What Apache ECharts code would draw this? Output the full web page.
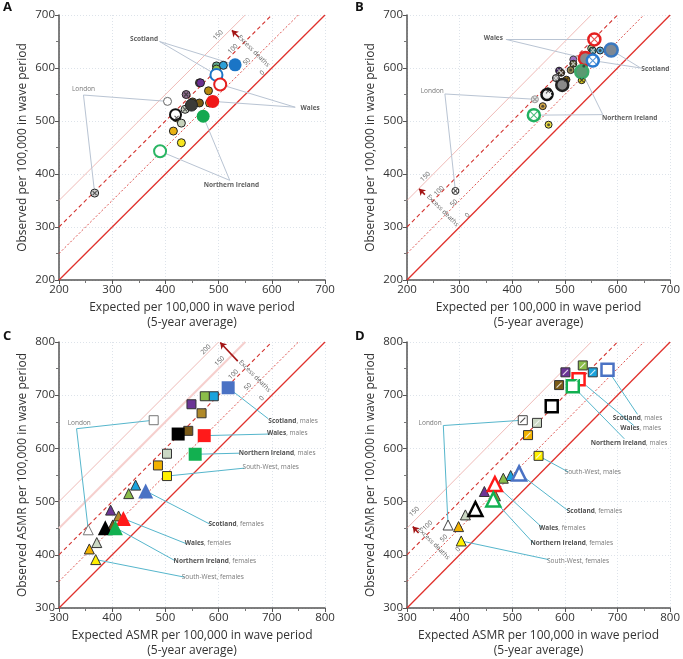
<!DOCTYPE html>
<html>
<head>
<meta charset="utf-8">
<script src="https://cdn.jsdelivr.net/npm/echarts@6/dist/echarts.min.js"></script>
<style>
  html, body { margin: 0; padding: 0; background: #fff; }
  #chart { width: 683px; height: 659px; }
</style>
</head>
<body>
<div id="chart"></div>
<script>
// ---------- data (expected, observed per 100,000) ----------
// Panel A
const aNames = ['North East (2)', 'North East', 'North West', 'Yorkshire', 'West Midlands', 'West Midlands (2)',
  'East', 'London', 'East Midlands', 'East Midlands (2)', 'South West', 'South East (2)', 'East (2)',
  'South East', 'Yorkshire (2)', 'South West (2)', 'London (2)', 'UK', 'England',
  'Scotland', 'Scotland (2)', 'Wales', 'Wales (2)', 'Northern Ireland', 'Northern Ireland (2)'];
const aExpected = [496, 509, 496, 464, 466, 439, 481, 404, 451, 464, 483, 437, 421, 430, 415, 430, 267, 449, 419,
  531, 496, 489, 503, 471, 390];
const aObserved = [604, 605, 598, 572, 572, 550, 557, 537, 536, 534, 534, 522, 506, 496, 481, 459, 364, 530, 512,
  606, 587, 537, 569, 509, 443];

// Panel B
const bNames = ['North West', 'North East (2)', 'North East', 'West Midlands', 'Yorkshire (2)', 'East',
  'Yorkshire', 'West Midlands (2)', 'East Midlands (2)', 'South East (2)', 'East Midlands', 'South West (2)',
  'East (2)', 'South East', 'London', 'East (3)', 'South West', 'London (2)', 'UK', 'England',
  'Wales (2)', 'Scotland', 'Wales', 'Scotland (2)', 'Northern Ireland', 'Northern Ireland (2)'];
const bExpected = [550, 553, 567, 516, 516, 536, 511, 489, 493, 483, 503, 532, 468, 471, 443, 458, 469, 292, 495, 466,
  556, 588, 539, 553, 532, 441];
const bObserved = [637, 633, 633, 616, 608, 604, 596, 595, 591, 581, 578, 577, 556, 551, 541, 528, 493, 368, 568, 550,
  654, 634, 618, 614, 593, 511];

// Panels C and D: age-standardised rates, males (M) and females (F)
const cNames = ['North East M', 'North West M', 'West Midlands M', 'Yorkshire M', 'London M', 'East Midlands M',
  'South East M', 'East M', 'South West M', 'England M', 'Scotland M', 'Wales M', 'Northern Ireland M',
  'North East F', 'North West F', 'West Midlands F', 'Yorkshire F', 'London F', 'East Midlands F',
  'South East F', 'East F', 'South West F', 'England F', 'Scotland F', 'Wales F', 'Northern Ireland F'];
const cExpected = [591, 574, 549, 568, 478, 543, 503, 486, 503, 524, 618, 573, 556,
  444, 431, 397, 412, 355, 401, 371, 357, 369, 387, 463, 421, 406];
const cObserved = [698, 698, 683, 666, 653, 633, 590, 568, 548, 627, 714, 624, 589,
  531, 515, 484, 473, 447, 456, 423, 411, 391, 451, 520, 468, 451];

const dNames = ['North West M', 'North East M', 'West Midlands M', 'Yorkshire M', 'East Midlands M', 'London M',
  'South East M', 'East M', 'South West M', 'England M', 'Scotland M', 'Wales M', 'Northern Ireland M',
  'North East F', 'North West F', 'West Midlands F', 'Yorkshire F', 'South East F', 'London F',
  'East F', 'South West F', 'England F', 'Scotland F', 'Wales F', 'Northern Ireland F'];
const dExpected = [634, 653, 601, 624, 589, 520, 547, 530, 550, 575, 681, 626, 615,
  497, 483, 447, 468, 411, 378, 398, 403, 430, 513, 467, 464];
const dObserved = [756, 743, 743, 729, 719, 653, 648, 625, 586, 679, 748, 730, 717,
  549, 544, 519, 511, 475, 456, 453, 426, 486, 553, 533, 504];

const excessLevelsAB = [0, 50, 100, 150];
const excessLevelsCD = [0, 50, 100, 150, 200];

// ---------- styles ----------
const styleA = {
  'North East (2)': { c: '#5ea58c' }, 'North East': { c: '#2ba0d8' }, 'North West': { c: '#8cc152' },
  'Yorkshire': { c: '#7e7b3c' }, 'West Midlands': { c: '#6a2f90' }, 'West Midlands (2)': { c: '#8c6c8c', mark: 'x' },
  'East': { c: '#b8880f' }, 'London': { c: '#fff', b: '#666' }, 'East Midlands': { c: '#8d6c18' },
  'East Midlands (2)': { c: '#7a5c12' }, 'South West': { c: '#efc21c' }, 'South East (2)': { c: '#c9d1c3', mark: 'x' },
  'East (2)': { c: '#d6a21f', mark: 'x' }, 'South East': { c: '#c7d2bc' }, 'Yorkshire (2)': { c: '#e9b112' },
  'South West (2)': { c: '#f7e51e' }, 'London (2)': { c: '#cfcfcf', mark: 'x' },
  'UK': { c: '#3b3b38', b: '#222', s: 12 }, 'England': { c: '#fff', b: '#111', w: 2, s: 11 },
  'Scotland': { c: '#1b75c6', w: 0, s: 13 }, 'Scotland (2)': { c: '#fff', b: '#1b75c6', w: 2, s: 12 },
  'Wales': { c: '#f01818', w: 0, s: 13 }, 'Wales (2)': { c: '#fff', b: '#e52020', w: 2, s: 12 },
  'Northern Ireland': { c: '#14a850', w: 0, s: 13 }, 'Northern Ireland (2)': { c: '#fff', b: '#2ab563', w: 2, s: 12 }
};
const styleB = {
  'North West': { c: '#a4c48c', mark: 'dot', s: 7 }, 'North East (2)': { c: '#2e6e70', mark: 'x', mc: '#ddd', s: 7 },
  'North East': { c: '#5aaee0', mark: 'dot', s: 7 }, 'West Midlands': { c: '#9c72c4', b: '#444', s: 7 },
  'Yorkshire (2)': { c: '#4d4a28', mark: 'x', mc: '#ddd', s: 7 }, 'East': { c: '#c9a244', mark: 'dot', s: 7 },
  'Yorkshire': { c: '#9c8c52', mark: 'dot', s: 7 }, 'West Midlands (2)': { c: '#3c1c5c', mark: 'x', mc: '#bbb', s: 7 },
  'East Midlands (2)': { c: '#3a2c1c', mark: 'x', mc: '#ddd', s: 7 }, 'South East (2)': { c: '#8e8e8e', mark: 'x', mc: '#eee', s: 7 },
  'East Midlands': { c: '#8c6a12', mark: 'x', mc: '#222', s: 7 }, 'South West (2)': { c: '#d8c81c', mark: 'x', mc: '#222', s: 7 },
  'East (2)': { c: '#b89430', mark: 'x', mc: '#222', s: 7 }, 'South East': { c: '#b0b0b0', mark: 'x', mc: '#fff', s: 7 },
  'London': { c: '#e8e8e8', b: '#999', mark: 'x', mc: '#888', s: 7 }, 'East (3)': { c: '#d4a848', mark: 'dot', s: 7 },
  'South West': { c: '#ecdf44', mark: 'dot', s: 7 }, 'London (2)': { c: '#fff', b: '#222', mark: 'x', mc: '#222', s: 7 },
  'UK': { c: '#8a8a8a', b: '#222', w: 2.5, s: 12 }, 'England': { c: '#eee', b: '#111', w: 2.5, s: 11 },
  'Wales (2)': { c: '#fff', b: '#e52020', w: 2.5, s: 12, mark: 'x', mc: '#e52020' },
  'Scotland': { c: '#7d8894', b: '#3a78c0', w: 2.5, s: 13 },
  'Wales': { c: '#8a8a8a', b: '#e02424', w: 2.5, s: 13 },
  'Scotland (2)': { c: '#fff', b: '#2a7ad0', w: 2.5, s: 12, mark: 'x', mc: '#2a7ad0' },
  'Northern Ireland': { c: '#5a9a72', b: '#3aaa6a', w: 2.5, s: 13 },
  'Northern Ireland (2)': { c: '#fff', b: '#22b060', w: 2.5, s: 12, mark: 'x', mc: '#22b060' }
};
const regionColour = {
  'Scotland': '#4a72c4', 'North East': '#1ba3dc', 'North West': '#8bbd4a', 'West Midlands': '#6b3595',
  'Yorkshire': '#b08a2a', 'London': '#ffffff', 'East Midlands': '#7a5a18', 'England': '#000000',
  'Wales': '#ff1a1a', 'South East': '#cbd8c4', 'Northern Ireland': '#12b050', 'East': '#f2b200',
  'South West': '#fff000'
};
const bigRegions = ['Scotland', 'Wales', 'Northern Ireland', 'England'];

function styleC(name) {
  const region = name.slice(0, -2), sex = name.slice(-1);
  const big = bigRegions.includes(region);
  return {
    c: regionColour[region], b: region === 'London' ? '#777' : '#333', w: big ? 0 : 1,
    s: big ? (sex === 'M' ? 13 : 15) : (sex === 'M' ? 9 : 10),
    shape: sex === 'M' ? 'rect' : 'triangle'
  };
}
function styleD(name) {
  const region = name.slice(0, -2), sex = name.slice(-1);
  const big = bigRegions.includes(region);
  const shape = sex === 'M' ? 'rect' : 'triangle';
  if (big) return { c: '#fff', b: regionColour[region], w: 2.5, s: sex === 'M' ? 12 : 14, shape: shape };
  return {
    c: regionColour[region], b: region === 'London' ? '#444' : '#333', w: 1,
    s: sex === 'M' ? 9 : 10, shape: shape, mark: sex === 'M' ? 'slash' : null,
    mc: region === 'London' ? '#222' : '#fff'
  };
}

// ---------- build ----------
const grids = [
  { left: 59, top: 15, width: 266, height: 265 },
  { left: 407, top: 15, width: 266, height: 265 },
  { left: 59, top: 342, width: 266, height: 267 },
  { left: 407, top: 342, width: 266, height: 267 }
];
const ranges = [[200, 700], [200, 700], [300, 800], [300, 800]];
const xNames = ['Expected per 100,000 in wave period\n(5-year average)', 'Expected per 100,000 in wave period\n(5-year average)',
  'Expected ASMR per 100,000 in wave period\n(5-year average)', 'Expected ASMR per 100,000 in wave period\n(5-year average)'];
const yNames = ['Observed per 100,000 in wave period', 'Observed per 100,000 in wave period',
  'Observed ASMR per 100,000 in wave period', 'Observed ASMR per 100,000 in wave period'];

const font = '"Open Sans", sans-serif';
const noteSize = 6.5;

function axis(i, isX) {
  return {
    type: 'value', gridIndex: i, min: ranges[i][0], max: ranges[i][1], interval: 100,
    axisLine: { show: true, onZero: false, lineStyle: { color: '#555', width: 1.5 } },
    axisTick: { show: true, length: 4, lineStyle: { color: '#555' } },
    minorTick: { show: true, splitNumber: 2, length: 3, lineStyle: { color: '#777' } },
    splitLine: { show: true, lineStyle: { color: '#dde3ea', type: [1, 2] } },
    axisLabel: { fontSize: 11.5, color: '#333', fontFamily: font, margin: 4 },
    name: isX ? xNames[i] : yNames[i], nameLocation: 'middle', nameGap: isX ? 20 : 29,
    nameTextStyle: { fontSize: 12, color: '#333', fontFamily: font, lineHeight: 15 }
  };
}

const levelStyle = {
  0: { color: '#e0312c', width: 1.3, type: 'solid' },
  50: { color: '#d9413c', width: 0.9, type: [2, 2] },
  100: { color: '#d33430', width: 1.1, type: [4, 3] },
  150: { color: '#eba8a5', width: 0.8, type: 'solid' },
  200: { color: '#eba8a5', width: 0.8, type: 'solid' }
};
// panel C draws the 150 line as a broad pale band
const levelStyleC150 = { color: '#f6cfcd', width: 2, type: 'solid' };

const series = [];

function addRefLines(i, levels) {
  const [lo, hi] = ranges[i];
  levels.slice().reverse().forEach(k => {
    const st = (i === 2 && k === 150) ? levelStyleC150 : levelStyle[k];
    series.push({
      type: 'lines', coordinateSystem: 'cartesian2d', xAxisIndex: i, yAxisIndex: i, silent: true,
      lineStyle: Object.assign({ opacity: 1 }, st),
      data: [{ coords: [[lo, lo + k], [hi - k, hi]] }]
    });
  });
}

function addMarkers(i, names, xs, ys, styleOf, defShape) {
  const items = names.map((n, j) => {
    const st = styleOf(n);
    return {
      name: n, value: [xs[j], ys[j]], symbol: st.shape || defShape, symbolSize: st.s || 8,
      itemStyle: { color: st.c, borderColor: st.b || st.c, borderWidth: st.w === undefined ? 1 : st.w, opacity: 1 },
      _st: st
    };
  });
  items.forEach(it => { if (it.itemStyle.borderWidth === 1 && !it._st.b) it.itemStyle.borderColor = '#222'; });
  series.push({
    type: 'scatter', xAxisIndex: i, yAxisIndex: i, silent: true, z: 5,
    data: items.map(({ _st, ...rest }) => rest)
  });
  const marks = items.filter(it => it._st.mark);
  series.push({
    type: 'scatter', xAxisIndex: i, yAxisIndex: i, silent: true, z: 6,
    data: marks.map(it => {
      const st = it._st, s = st.s || 8;
      if (st.mark === 'dot') {
        return { value: it.value, symbol: 'circle', symbolSize: 3, itemStyle: { color: st.mc || '#333' } };
      }
      const path = st.mark === 'x' ? 'path://M0,0L10,10M10,0L0,10' : 'path://M0,10L10,0';
      return {
        value: it.value, symbol: path, symbolSize: Math.round(s * 0.55),
        itemStyle: { color: 'rgba(0,0,0,0)', borderColor: st.mc || '#333', borderWidth: 1.1 }
      };
    })
  });
  return names.reduce((m, n, j) => (m[n] = [xs[j], ys[j]], m), {});
}

function addText(i, items) {
  series.push({
    type: 'scatter', xAxisIndex: i, yAxisIndex: i, silent: true, z: 8,
    symbolSize: 1, itemStyle: { color: 'rgba(0,0,0,0)' },
    data: items.map(t => ({
      value: t.at,
      label: {
        show: true, position: 'inside', formatter: t.text, rotate: t.rotate || 0,
        fontSize: noteSize, fontFamily: font, color: t.color || '#333', fontWeight: t.bold ? 'bold' : 'normal',
        rich: {
          b: { fontSize: noteSize, fontWeight: 'bold', color: '#222', fontFamily: font },
          n: { fontSize: noteSize, color: '#555', fontFamily: font }
        }
      }
    }))
  });
}

function addLeaders(i, pos, leaders, colour) {
  const data = [];
  leaders.forEach(l => l.to.forEach(n => data.push({ coords: [l.from, pos[n]] })));
  series.push({
    type: 'lines', coordinateSystem: 'cartesian2d', xAxisIndex: i, yAxisIndex: i, silent: true, z: 4,
    lineStyle: { color: colour, width: 1, opacity: 1 }, data: data
  });
}

function addArrow(i, from, to) {
  series.push({
    type: 'lines', coordinateSystem: 'cartesian2d', xAxisIndex: i, yAxisIndex: i, silent: true, z: 7,
    symbol: ['none', 'arrow'], symbolSize: 6,
    lineStyle: { color: '#a31515', width: 1.6, opacity: 1 }, data: [{ coords: [from, to] }]
  });
}

// Panel A
addRefLines(0, excessLevelsAB);
const posA = addMarkers(0, aNames, aExpected, aObserved, n => styleA[n], 'circle');
addLeaders(0, posA, [
  { from: [389, 650], to: ['Scotland', 'Scotland (2)'] },
  { from: [246, 549], to: ['London', 'London (2)'] },
  { from: [644, 526], to: ['Wales (2)', 'Wales'] },
  { from: [521, 388], to: ['Northern Ireland', 'Northern Ireland (2)'] }
], '#b9c4d3');
addText(0, [
  { at: [360, 655], text: 'Scotland', bold: true },
  { at: [246, 560], text: 'London', color: '#555' },
  { at: [672, 525], text: 'Wales', bold: true },
  { at: [524, 379], text: 'Northern Ireland', bold: true },
  { at: [499, 662], text: '150', rotate: 45 },
  { at: [527, 636], text: '100', rotate: 45 },
  { at: [553, 612], text: '50', rotate: 45 },
  { at: [582, 591], text: '0', rotate: 45 },
  { at: [566, 632], text: 'Excess deaths', rotate: -45 }
]);
addArrow(0, [538, 658], [525, 671]);

// Panel B
addRefLines(1, excessLevelsAB);
const posB = addMarkers(1, bNames, bExpected, bObserved, n => styleB[n], 'circle');
addLeaders(1, posB, [
  { from: [388, 654], to: ['Wales (2)', 'Wales'] },
  { from: [644, 600], to: ['Scotland', 'Scotland (2)'] },
  { from: [272, 551], to: ['London', 'London (2)'] },
  { from: [572, 512], to: ['Northern Ireland', 'Northern Ireland (2)'] }
], '#b9c4d3');
addText(1, [
  { at: [364, 656], text: 'Wales', bold: true },
  { at: [672, 598], text: 'Scotland', bold: true },
  { at: [248, 557], text: 'London', color: '#555' },
  { at: [623, 505], text: 'Northern Ireland', bold: true },
  { at: [235, 395], text: '150', rotate: 45 },
  { at: [261, 368], text: '100', rotate: 45 },
  { at: [289, 345], text: '50', rotate: 45 },
  { at: [315, 322], text: '0', rotate: 45 },
  { at: [268, 331], text: 'Excess deaths', rotate: -45 }
]);
addArrow(1, [234, 361], [223, 372]);

// Panel C
addRefLines(2, excessLevelsCD);
const posC = addMarkers(2, cNames, cExpected, cObserved, styleC, 'rect');
addLeaders(2, posC, [
  { from: [333, 637], to: ['London M', 'London F'] },
  { from: [693, 656], to: ['Scotland M'] },
  { from: [696, 627], to: ['Wales M'] },
  { from: [639, 591], to: ['Northern Ireland M'] },
  { from: [649, 563], to: ['South West M'] },
  { from: [583, 458], to: ['Scotland F'] },
  { from: [539, 421], to: ['Wales F'] },
  { from: [518, 389], to: ['Northern Ireland F'] },
  { from: [536, 358], to: ['South West F'] }
], '#56b6cc');
addText(2, [
  { at: [338, 648], text: 'London', color: '#555' },
  { at: [740, 652], text: '{b|Scotland}{n|, males}' },
  { at: [729, 629], text: '{b|Wales}{n|, males}' },
  { at: [710, 591], text: '{b|Northern Ireland}{n|, males}' },
  { at: [698, 564], text: '{n|South-West, males}' },
  { at: [633, 458], text: '{b|Scotland}{n|, females}' },
  { at: [580, 421], text: '{b|Wales}{n|, females}' },
  { at: [593, 389], text: '{b|Northern Ireland}{n|, females}' },
  { at: [589, 358], text: '{n|South-West, females}' },
  { at: [576, 786], text: '200', rotate: 45 },
  { at: [602, 764], text: '150', rotate: 45 },
  { at: [628, 739], text: '100', rotate: 45 },
  { at: [655, 716], text: '50', rotate: 45 },
  { at: [681, 694], text: '0', rotate: 45 },
  { at: [668, 736], text: 'Excess deaths', rotate: -45 }
]);
addArrow(2, [636, 764], [603, 799]);

// Panel D
addRefLines(3, excessLevelsAB);
const posD = addMarkers(3, dNames, dExpected, dObserved, styleD, 'rect');
addLeaders(3, posD, [
  { from: [369, 643], to: ['London M', 'London F'] },
  { from: [738, 664], to: ['Scotland M'] },
  { from: [731, 643], to: ['Wales M'] },
  { from: [713, 618], to: ['Northern Ireland M'] },
  { from: [606, 556], to: ['South West M'] },
  { from: [606, 483], to: ['Scotland F'] },
  { from: [556, 452], to: ['Wales F'] },
  { from: [541, 421], to: ['Northern Ireland F'] },
  { from: [569, 391], to: ['South West F'] }
], '#56b6cc');
addText(3, [
  { at: [344, 648], text: 'London', color: '#555' },
  { at: [738, 656], text: '{b|Scotland}{n|, males}' },
  { at: [744, 638], text: '{b|Wales}{n|, males}' },
  { at: [722, 610], text: '{b|Northern Ireland}{n|, males}' },
  { at: [653, 555], text: '{n|South-West, males}' },
  { at: [656, 482], text: '{b|Scotland}{n|, females}' },
  { at: [595, 451], text: '{b|Wales}{n|, females}' },
  { at: [613, 421], text: '{b|Northern Ireland}{n|, females}' },
  { at: [625, 389], text: '{n|South-West, females}' },
  { at: [314, 481], text: '150', rotate: 45 },
  { at: [339, 455], text: '100', rotate: 45 },
  { at: [370, 431], text: '50', rotate: 45 },
  { at: [397, 410], text: '0', rotate: 45 },
  { at: [351, 421], text: 'Excess deaths', rotate: -45 }
]);
addArrow(3, [322, 441], [311, 453]);

const chart = echarts.init(document.getElementById('chart'));
chart.setOption({
  animation: false,
  backgroundColor: '#fff',
  grid: grids,
  xAxis: [0, 1, 2, 3].map(i => axis(i, true)),
  yAxis: [0, 1, 2, 3].map(i => axis(i, false)),
  graphic: [
    { type: 'text', left: 3, top: 1, style: { text: 'A', font: 'bold 13px "Open Sans", sans-serif', fill: '#111' } },
    { type: 'text', left: 355, top: 1, style: { text: 'B', font: 'bold 13px "Open Sans", sans-serif', fill: '#111' } },
    { type: 'text', left: 3, top: 330, style: { text: 'C', font: 'bold 13px "Open Sans", sans-serif', fill: '#111' } },
    { type: 'text', left: 355, top: 330, style: { text: 'D', font: 'bold 13px "Open Sans", sans-serif', fill: '#111' } }
  ],
  series: series
});
</script>
</body>
</html>
